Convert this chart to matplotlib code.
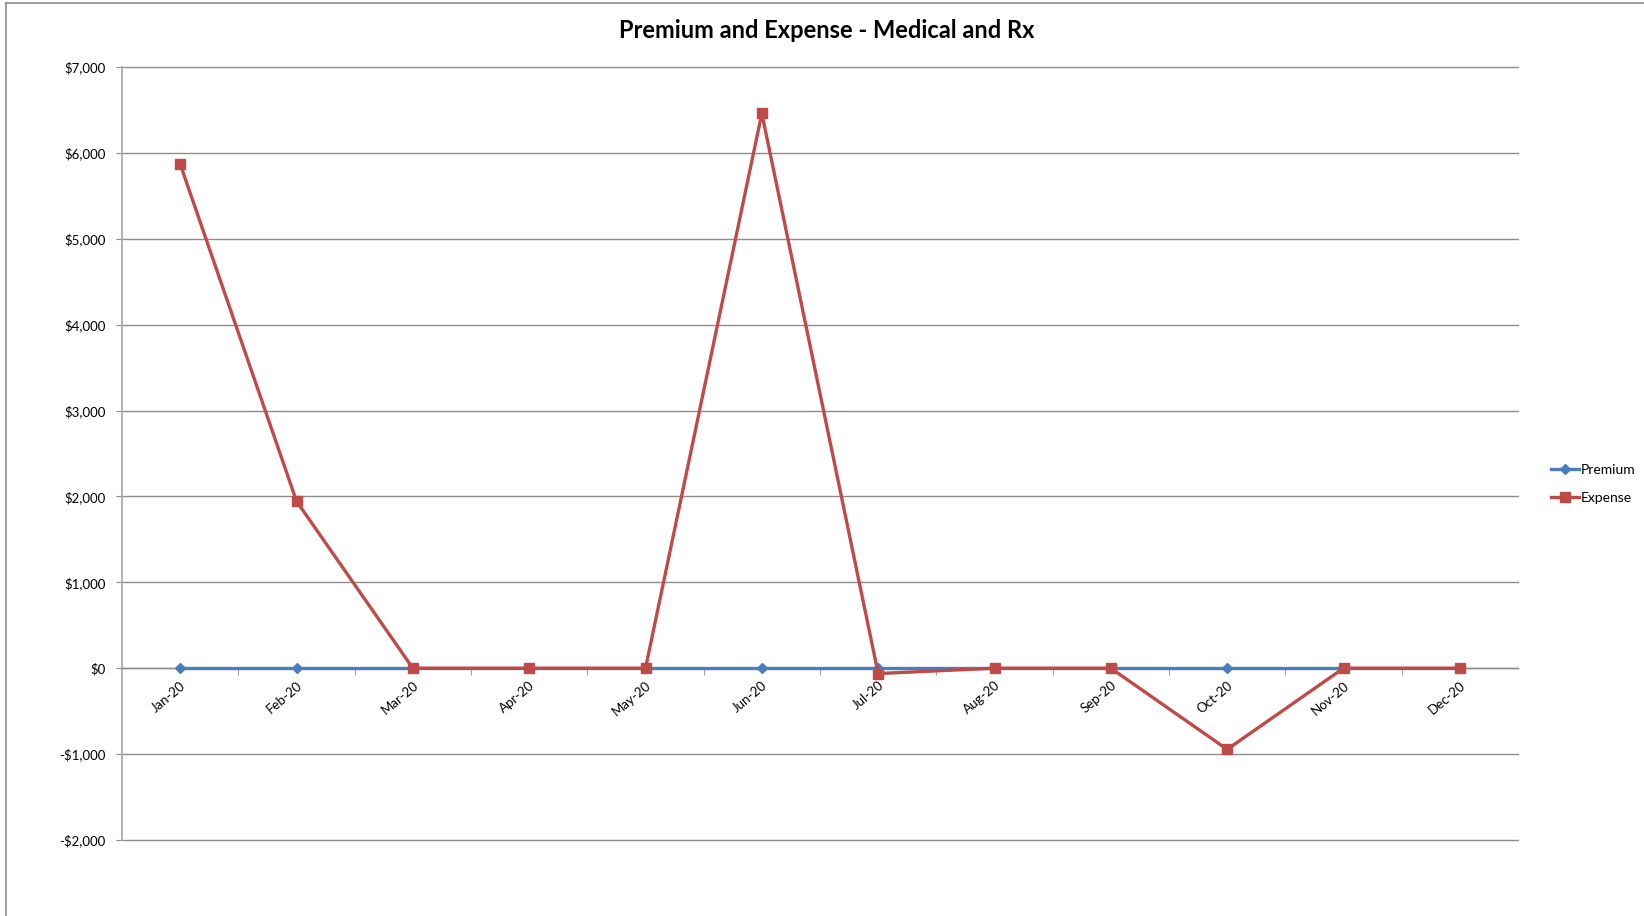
import matplotlib
matplotlib.use("Agg")
import matplotlib.pyplot as plt
from matplotlib.lines import Line2D
from matplotlib.ticker import FuncFormatter, FixedLocator
import numpy as np

plt.rcParams['font.family'] = ['Lato', 'DejaVu Sans']

months = ['Jan-20', 'Feb-20', 'Mar-20', 'Apr-20', 'May-20', 'Jun-20',
          'Jul-20', 'Aug-20', 'Sep-20', 'Oct-20', 'Nov-20', 'Dec-20']
premium = [0, 0, 0, 0, 0, 0, 0, 0, 0, 0, 0, 0]
expense = [5870, 1945, 0, 0, 0, 6460, -62, 0, 0, -945, 0, 0]

blue = '#4a7ebb'
red = '#be4b48'
grid_c = '#8c8c8c'

W, H = 1644, 916
fig = plt.figure(figsize=(W / 100, H / 100), dpi=100)
# plot area in pixels: left 122, right 1518, top 67, bottom 840
ax = fig.add_axes([122 / W, 1 - 840 / H, (1518 - 122) / W, (840 - 67) / H])

x = np.arange(len(months))
ax.plot(x, premium, color=blue, lw=2.4, marker='D', ms=5.5,
        mec=blue, mfc=blue, label='Premium', zorder=3)
ax.plot(x, expense, color=red, lw=2.4, marker='s', ms=7,
        mec=red, mfc=red, label='Expense', zorder=4)

ax.set_xlim(-0.5, len(months) - 0.5)
ax.set_ylim(-2000, 7000)
ax.set_yticks(np.arange(-2000, 7001, 1000))
ax.yaxis.set_major_formatter(FuncFormatter(
    lambda v, p: ('-$' if v < 0 else '$') + f'{abs(v):,.0f}'))
ax.grid(axis='y', color=grid_c, lw=1)
ax.set_axisbelow(True)
for gl in ax.get_ygridlines():
    gl.set_clip_on(False)

for s in ['top', 'right']:
    ax.spines[s].set_visible(False)
ax.spines['left'].set_color('#a6a6a6')
ax.spines['left'].set_linewidth(1.2)
ax.spines['bottom'].set_position(('data', 0))
ax.spines['bottom'].set_color(grid_c)
ax.spines['bottom'].set_linewidth(1)

ax.tick_params(axis='y', length=4, color=grid_c, labelsize=9.5, pad=8)
ax.set_xticks(x)
ax.set_xticklabels(months, rotation=40, ha='right', rotation_mode='anchor',
                   fontsize=9.5)
ax.tick_params(axis='x', which='major', length=0, pad=8)
ax.xaxis.set_minor_locator(FixedLocator(np.arange(0.5, len(months) - 1, 1)))
ax.tick_params(axis='x', which='minor', length=5, color=grid_c, direction='out')

fig.text(827 / W, 1 - 30 / H, 'Premium and Expense - Medical and Rx',
         ha='center', va='center', fontsize=17, fontweight='bold')

fig.legend(handles=[
    Line2D([], [], color=blue, lw=2.4, marker='D', ms=5.5),
    Line2D([], [], color=red, lw=2.4, marker='s', ms=7)],
    labels=['Premium', 'Expense'], loc='center left',
    bbox_to_anchor=(1551 / W, 1 - 484 / H), frameon=False, fontsize=10,
    borderaxespad=0, borderpad=0, handlelength=2.0, handletextpad=0.15,
    labelspacing=1.15)

# outer chart border
fig.add_artist(Line2D([6 / W, 6 / W], [0, 1 - 3 / H], color='#8c8c8c', lw=1.2,
                      transform=fig.transFigure))
fig.add_artist(Line2D([6 / W, 1], [1 - 3 / H, 1 - 3 / H], color='#8c8c8c', lw=1.2,
                      transform=fig.transFigure))

fig.savefig('out.png', dpi=100)
